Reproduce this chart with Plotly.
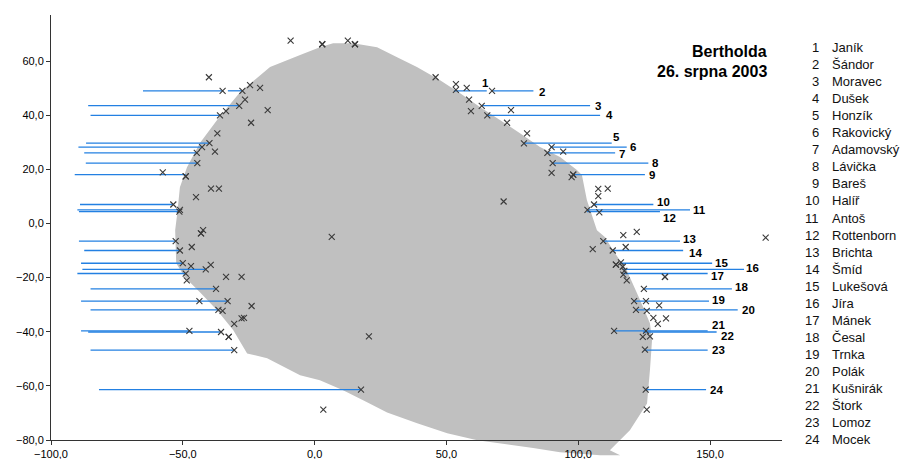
import plotly.graph_objects as go

# ---------------- data ----------------
names = ["Janík", "Šándor", "Moravec", "Dušek", "Honzík", "Rakovický", "Adamovský",
         "Lávička", "Bareš", "Halíř", "Antoš", "Rottenborn", "Brichta", "Šmíd",
         "Lukešová", "Jíra", "Mánek", "Česal", "Trnka", "Polák", "Kušnirák",
         "Štork", "Lomoz", "Mocek"]
numbers = list(range(1, 25))

angler_y = [49.0, 49.0, 43.5, 39.9, 29.7, 28.2, 26.1, 22.3, 18.0, 7.0, 5.0, 4.4,
            -6.5, -10.0, -14.7, -17.0, -18.5, -24.2, -28.7, -31.9, -39.7, -40.1,
            -46.8, -61.4]
left_from = [-32.9, -65.1, -85.9, -85.0, -86.7, -89.6, -87.4, -86.8, -91.0, -89.0,
             -90.0, -89.4, -89.4, -87.4, -88.6, -88.1, -90.0, -85.0, -88.6, -85.0,
             -88.6, -85.9, -85.0, -81.8]
left_to = [-27.4, -34.9, -28.3, -35.8, -40.0, -42.7, -44.7, -44.5, -48.9, -53.6,
           -51.1, -51.1, -52.7, -51.1, -50.0, -41.3, -48.9, -37.4, -33.0, -36.5,
           -47.5, -35.5, -30.5, 17.6]
right_from = [52.9, 67.2, 63.4, 65.3, 79.4, 89.3, 88.2, 90.3, 98.0, 105.6, 103.7,
              103.3, 109.4, 113.2, 115.9, 117.1, 117.1, 124.6, 120.8, 121.9, 113.6,
              124.6, 124.9, 125.3]
right_to = [65.3, 83.0, 104.5, 108.3, 112.7, 118.4, 114.0, 126.6, 125.3, 128.5,
            142.4, 131.0, 138.6, 139.8, 150.8, 162.9, 149.1, 158.3, 149.6, 160.5,
            149.1, 152.5, 149.1, 148.5]

mark_x = [-9.1, -40.1, -34.9, -27.4, -24.5, -20.7, -26.4, -28.6, -17.8, -33.6, -35.9,
          -24.1, -36.9, -39.9, -42.7, -44.7, -37.8, -44.5, -57.6, -48.9, -48.9, -39.3,
          -36.3, -45.0, -53.6, -51.1, -51.3,
          -43.1, -43.1, -42.3, -52.7, -46.6, -51.1, -50.0, -46.9, -39.4, -41.3, -48.9,
          -48.5, -33.6, -27.7, -37.4, -43.7, -33.0, -23.9, -36.5, -34.9, -26.8, -27.7,
          -30.5, -47.5, -35.5, -32.6, -32.6, -30.5,
          2.9, 2.9, 12.6, 15.3, 15.3, 45.9, 53.6, 53.6, 57.7, 67.3, 58.6, 63.4, 74.5,
          59.3, 65.5, 73.0, 80.6, 79.4, 89.9, 88.3, 94.3, 90.3, 89.9, 98.1, 98.1, 97.5,
          71.7, 107.6, 111.2, 107.6, 106.0, 103.5, 108.0,
          6.5, 105.5, 20.6, 17.6, 3.3,
          117.1, 122.2, 171.1, 109.5, 118.0, 113.1, 114.3, 114.3, 116.2, 116.9, 117.5,
          117.1, 118.4, 132.9, 132.9, 124.9, 121.2, 125.7, 130.7, 121.9, 126.0, 128.5,
          133.3, 130.2, 113.6, 125.7, 127.2, 124.5, 125.3, 125.6, 126.0]
mark_y = [67.5, 54.0, 49.0, 49.0, 51.1, 50.1, 45.7, 43.4, 41.9, 41.5, 39.9,
          37.2, 33.3, 29.7, 28.2, 26.1, 26.5, 22.3, 18.9, 17.4, 17.4, 12.9,
          12.9, 9.7, 7.0, 5.0, 4.4,
          -3.7, -3.7, -2.5, -6.5, -8.7, -10.0, -14.7, -15.8, -15.3, -17.0, -18.5,
          -21.0, -19.7, -19.7, -24.2, -28.7, -28.7, -30.5, -31.9, -32.3, -34.9, -35.1,
          -37.1, -39.7, -40.1, -41.9, -41.9, -46.8,
          66.2, 66.2, 67.5, 66.2, 66.2, 54.0, 51.5, 49.3, 50.1, 49.0, 45.7, 43.4, 41.9,
          41.5, 39.9, 37.2, 33.3, 29.6, 28.2, 26.1, 26.5, 22.3, 18.7, 18.0, 18.0, 17.1,
          8.1, 12.8, 12.9, 10.1, 7.0, 5.0, 4.1,
          -5.0, -9.5, -41.7, -61.4, -68.8,
          -4.3, -3.1, -5.2, -6.5, -8.7, -10.0, -15.2, -15.2, -14.4, -16.0, -17.5,
          -18.9, -21.0, -19.7, -19.7, -24.2, -28.7, -28.7, -30.3, -31.9, -32.3, -34.9,
          -35.1, -37.1, -39.7, -39.7, -41.7, -41.9, -46.6, -61.4, -68.8]

# outline of the pond (grey area)
shore_x = [-52.1, -51.1, -48.4, -43.5, -37.0, -28.3, -16.9, -5.5, 2.0, 7.0, 14.6,
           23.7, 31.3, 38.8, 47.6, 55.2, 62.7, 70.3, 77.9, 85.5, 93.1, 99.5, 101.4,
           103.3, 107.1, 110.1, 113.2, 118.4, 122.3, 124.6, 127.2, 128.0, 127.2,
           126.1, 119.6, 112.0, 115.9, 108.3, 93.1, 82.9, 61.7, 50.3, 38.9, 27.5,
           19.9, 10.8, 2.0, -5.5, -18.0, -25.6, -30.9, -37.0, -43.5, -49.2, -52.5,
           -52.9]
shore_y = [3.8, 13.4, 20.8, 29.7, 38.2, 48.5, 57.8, 62.2, 65.1, 66.6, 66.6,
           65.1, 61.4, 57.8, 52.9, 48.1, 43.0, 38.2, 33.3, 28.2, 24.5, 19.7, 17.9,
           8.6, -2.5, -5.0, -9.9, -17.3, -25.8, -30.9, -36.9, -43.1, -54.2,
           -66.5, -76.4, -83.8, -85.6, -85.6, -84.5, -83.0, -80.1, -77.5, -73.8, -69.8,
           -66.1, -61.6, -57.9, -56.1, -49.8, -48.0, -39.4, -32.1, -25.4, -19.9, -14.7,
           -2.5]

title_lines = ["Bertholda", "26. srpna 2003"]

# ---------------- styling / layout helpers ----------------
X_RANGE = [-100, 177.3]
Y_RANGE = [-80, 77]
W, H = 903, 459
M_L, M_R, M_T, M_B = 51, 121, 15, 19
LINE_COLOR = "#2380e2"
FONT = "Liberation Sans, Arial, sans-serif"
# label offsets (pixels) relative to the right end of each line
label_dx = [-1, 8.4, 8.3, 9.3, 5, 6.6, 7.3, 7, 7, 10, 9.3, 10, 9.3, 12, 9.7, 8.7,
            10, 9.3, 10, 10.6, 10.6, 10.6, 11.3, 10]
label_dy = [-7.4, 1, 0, 0, -6.3, 0, 1.3, 0, 0, -2.6, 0, 6, -1.7, 2, 0, -1.6,
            2.7, -2, -1, 0, -5.7, 4.3, 0, 0]

fig = go.Figure()

# pond outline as a shape (x on data axis, y in paper so it can run below the axis)
def ypaper(v):
    return (v - Y_RANGE[0]) / (Y_RANGE[1] - Y_RANGE[0])

path = "M " + " L ".join(f"{x},{ypaper(y)}" for x, y in zip(shore_x, shore_y)) + " Z"
fig.add_shape(type="path", path=path, xref="x", yref="paper",
              fillcolor="#C0C0C0", line=dict(width=0), layer="below")

# lines
lx, ly = [], []
for i in range(len(angler_y)):
    lx += [left_from[i], left_to[i], None, right_from[i], right_to[i], None]
    ly += [angler_y[i], angler_y[i], None, angler_y[i], angler_y[i], None]
fig.add_trace(go.Scatter(x=lx, y=ly, mode="lines",
                         line=dict(color=LINE_COLOR, width=1.3),
                         hoverinfo="skip", showlegend=False))

# markers
fig.add_trace(go.Scatter(x=mark_x, y=mark_y, mode="markers",
                         marker=dict(symbol="x-thin", size=6,
                                     line=dict(color="#3a3a3a", width=1.1)),
                         showlegend=False))

annotations = []
for i, n in enumerate(numbers):
    annotations.append(dict(x=right_to[i], y=angler_y[i], xref="x", yref="y",
                            text=f"<b>{n}</b>", showarrow=False,
                            xanchor="center", yanchor="middle",
                            xshift=label_dx[i], yshift=-label_dy[i],
                            font=dict(family=FONT, size=11.5, color="#000")))

plot_w = W - M_L - M_R
plot_h = H - M_T - M_B

def px_x(p):
    return (p - M_L) / plot_w

def px_y(p):
    return (H - M_B - p) / plot_h

for i, (n, name) in enumerate(zip(numbers, names)):
    yy = px_y(47.5 + i * 17.05)
    annotations.append(dict(x=px_x(820.5), y=yy, xref="paper", yref="paper",
                            text=str(n), showarrow=False, xanchor="right",
                            yanchor="middle",
                            font=dict(family=FONT, size=13, color="#111")))
    annotations.append(dict(x=px_x(830.5), y=yy, xref="paper", yref="paper",
                            text=name, showarrow=False, xanchor="left",
                            yanchor="middle",
                            font=dict(family=FONT, size=13, color="#111")))

for t, py in zip(title_lines, [51.7, 71.7]):
    annotations.append(dict(x=px_x(768.5), y=px_y(py), xref="paper", yref="paper",
                            text=f"<b>{t}</b>", showarrow=False, xanchor="right",
                            yanchor="middle",
                            font=dict(family=FONT, size=16, color="#000")))

axis_common = dict(showgrid=False, zeroline=False, showline=True, linecolor="#333",
                   linewidth=1, ticks="outside", ticklen=4, tickcolor="#333",
                   automargin=False,
                   tickformat=".1f", tickfont=dict(family=FONT, size=11, color="#000"))

fig.update_layout(
    width=W, height=H, autosize=False,
    margin=dict(l=M_L, r=M_R, t=M_T, b=M_B, pad=0, autoexpand=False),
    paper_bgcolor="white", plot_bgcolor="white",
    separators=", ",
    xaxis=dict(range=X_RANGE, tick0=-100, dtick=50, **axis_common),
    yaxis=dict(range=Y_RANGE, tick0=-80, dtick=20, **axis_common),
    annotations=annotations,
    showlegend=False,
)

fig.write_html("out.html",
               config={"displayModeBar": False, "responsive": False},
               post_script="document.body.style.margin='0';"
                           "document.body.style.overflow='hidden';")
